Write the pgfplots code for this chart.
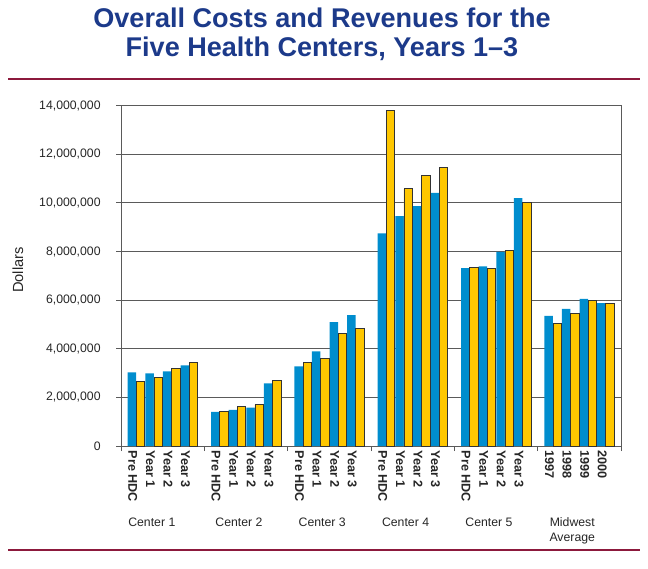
\documentclass[border=0pt]{standalone}
\usepackage{pgfplots}
\pgfplotsset{compat=1.18}
\usepackage{pgfplotstable}
\usepackage{fontspec}
\setmainfont{Liberation Sans}
\definecolor{barblue}{RGB}{0,141,206}
\definecolor{baryellow}{RGB}{255,199,0}
\definecolor{titleblue}{RGB}{28,58,138}
\definecolor{rulered}{RGB}{140,25,60}
\definecolor{gridgray}{RGB}{90,90,90}

\pgfplotstableread{
x a b
0.183 3030000 2650000
0.394 2990000 2830000
0.606 3070000 3200000
0.817 3320000 3440000
1.183 1400000 1440000
1.394 1490000 1620000
1.606 1580000 1700000
1.817 2580000 2700000
2.183 3280000 3440000
2.394 3890000 3610000
2.606 5100000 4630000
2.817 5390000 4840000
3.183 8750000 13790000
3.394 9460000 10580000
3.606 9870000 11130000
3.817 10410000 11460000
4.183 7320000 7340000
4.394 7390000 7320000
4.606 7990000 8050000
4.817 10200000 10020000
5.183 5350000 5050000
5.394 5640000 5460000
5.606 6050000 5980000
5.817 5880000 5870000
}\datatable

\begin{document}
\begin{tikzpicture}
\path[use as bounding box] (0,0) rectangle (486pt,426pt);
\node[anchor=base, font=\fontsize{20.3}{24}\selectfont\bfseries, text=titleblue] at (241.5pt,405.5pt) {Overall Costs and Revenues for the};
\node[anchor=base, font=\fontsize{20.3}{24}\selectfont\bfseries, text=titleblue] at (241.5pt,383.25pt) {Five Health Centers, Years 1–3};
\draw[rulered, line width=1.9pt] (6pt,366.75pt) -- (480pt,366.75pt);
\draw[rulered, line width=1.9pt] (6pt,13.5pt) -- (480pt,13.5pt);
\begin{axis}[
  at={(90.75pt,91.5pt)}, anchor=south west,
  scale only axis, width=375pt, height=255.2pt,
  xmin=0, xmax=6, ymin=0, ymax=14000000,
  clip=false,
  axis line style={gridgray, line width=0.7pt},
  ymajorgrids, major grid style={gridgray, line width=0.7pt},
  tick pos=left, tick align=outside,
  tick style={gridgray, line width=0.7pt},
  major tick length=3.75pt,
  ytick={0,2000000,4000000,6000000,8000000,10000000,12000000,14000000},
  scaled y ticks=false,
  /pgf/number format/.cd, fixed, precision=0, 1000 sep={,}, assume math mode=true,
  /pgfplots/.cd,
  yticklabel style={font=\fontsize{9.2}{11}\selectfont, text=black!85},
  yticklabel shift=8pt,
  xtick={0,1,2,3,4,5,6},
  xticklabels={},
  extra x ticks={0.141,0.352,0.564,0.775,1.141,1.352,1.564,1.775,2.141,2.352,2.564,2.775,3.141,3.352,3.564,3.775,4.141,4.352,4.564,4.775,5.141,5.352,5.564,5.775},
  extra x tick labels={Pre HDC,Year 1,Year 2,Year 3,Pre HDC,Year 1,Year 2,Year 3,Pre HDC,Year 1,Year 2,Year 3,Pre HDC,Year 1,Year 2,Year 3,Pre HDC,Year 1,Year 2,Year 3,1997,1998,1999,2000},
  extra x tick style={major tick length=0pt, xticklabel style={rotate=-90, anchor=west, font=\bfseries\fontsize{9.5}{11}\selectfont, text=black!85}},
  ylabel={Dollars},
  ylabel style={at={(axis description cs:-0.206,0.517)}, anchor=center, rotate=0, font=\fontsize{11}{13}\selectfont, text=black!85},
]
\addplot[ybar, bar width=0.102, bar shift=-0.052, fill=barblue, draw=none] table[x=x, y=a] {\datatable};
\addplot[ybar, bar width=0.102, bar shift=0.052, fill=baryellow, draw=black!80, line width=0.6pt] table[x=x, y=b] {\datatable};
\begin{scope}[every node/.style={anchor=base, font=\fontsize{9.2}{11}\selectfont, text=black!85}]
\node at (axis cs:0.37,0) [yshift=-60pt] {Center 1};
\node at (axis cs:1.415,0) [yshift=-60pt] {Center 2};
\node at (axis cs:2.415,0) [yshift=-60pt] {Center 3};
\node at (axis cs:3.415,0) [yshift=-60pt] {Center 4};
\node at (axis cs:4.415,0) [yshift=-60pt] {Center 5};
\node at (axis cs:5.415,0) [yshift=-60pt] {Midwest};
\node at (axis cs:5.415,0) [yshift=-71.5pt] {Average};
\end{scope}
\end{axis}
\end{tikzpicture}
\end{document}
